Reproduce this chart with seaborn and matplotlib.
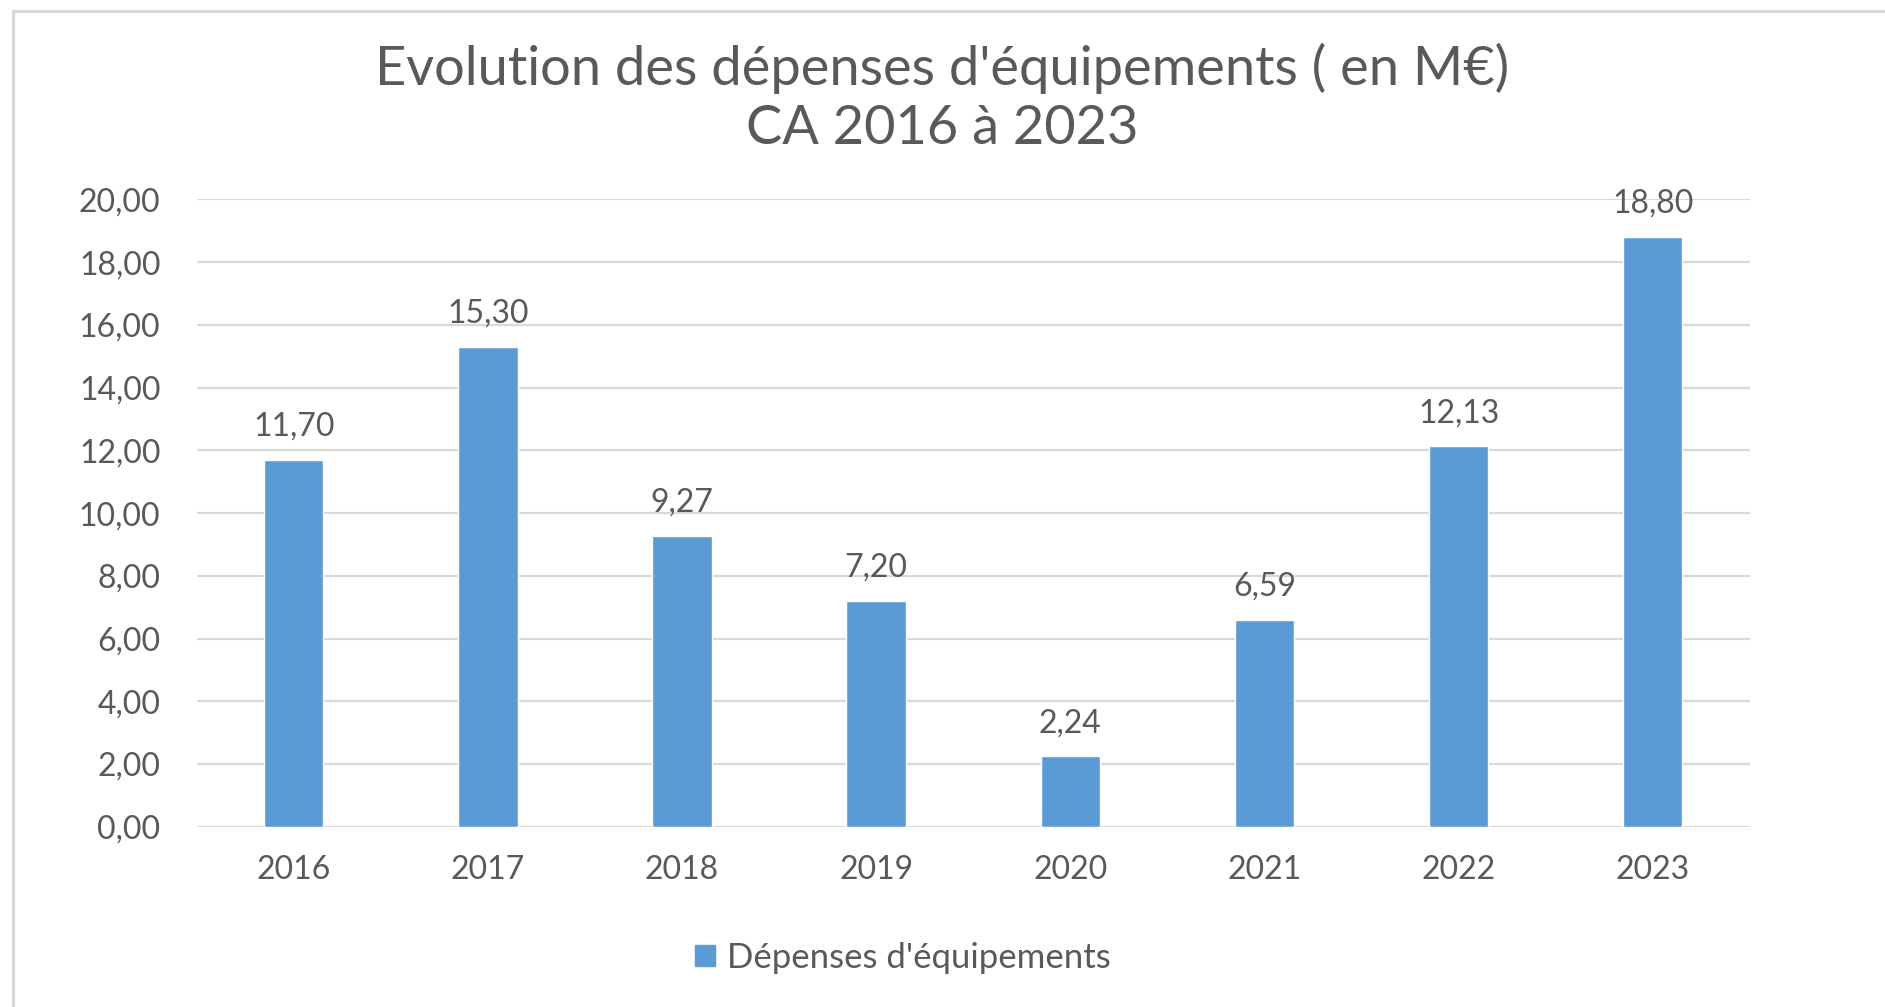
import numpy as np
import pandas as pd
import matplotlib.pyplot as plt
import seaborn as sns
from matplotlib.patches import Patch
from matplotlib.lines import Line2D
from matplotlib.ticker import FuncFormatter, MultipleLocator

# Chart data
years = ['2016', '2017', '2018', '2019', '2020', '2021', '2022', '2023']
depenses = [11.70, 15.30, 9.27, 7.20, 2.24, 6.59, 12.13, 18.80]
serie_label = "Dépenses d'équipements"
title_text = "Evolution des dépenses d'équipements ( en M€)\nCA 2016 à 2023"

df = pd.DataFrame({'Année': years, 'Montant': depenses})

bar_color = '#5B9BD5'
text_color = '#595959'
grid_color = '#D9D9D9'

sns.set_style('white')
plt.rcParams['font.family'] = ['Lato', 'DejaVu Sans']

fig = plt.figure(figsize=(18.85, 10.07), dpi=100)
ax = fig.add_axes([0.1043, 0.179, 0.824, 0.623])

sns.barplot(data=df, x='Année', y='Montant', color=bar_color, width=0.306,
            saturation=1, ax=ax, zorder=3)

ax.set_ylim(0, 20)
ax.yaxis.set_major_locator(MultipleLocator(2))
ax.yaxis.set_major_formatter(FuncFormatter(lambda v, p: f"{v:.2f}".replace('.', ',')))
ax.grid(axis='y', color=grid_color, linewidth=1.6, zorder=0)
ax.set_axisbelow(True)
for s in ax.spines.values():
    s.set_visible(False)
ax.tick_params(axis='both', length=0, labelsize=23, colors=text_color)
ax.tick_params(axis='y', pad=26)
ax.tick_params(axis='x', pad=20)
ax.set_xlabel('')
ax.set_ylabel('')

# data labels
for i, v in enumerate(depenses):
    ax.annotate(f"{v:.2f}".replace('.', ','), (i, v), xytext=(0, 13),
                textcoords='offset points', ha='center', va='bottom',
                fontsize=23, color=text_color, clip_on=False)

fig.text(0.5, 0.903, title_text, ha='center', va='center', fontsize=39,
         color=text_color, linespacing=1.25)

handles = [Patch(facecolor=bar_color, edgecolor=bar_color, label=serie_label)]
fig.legend(handles=handles, loc='center', bbox_to_anchor=(0.479, 0.049),
           frameon=False, fontsize=25, labelcolor=text_color,
           handlelength=0.55, handleheight=0.55, handletextpad=0.35)

# outer chart frame (top and left edges)
fig.add_artist(Line2D([0.0069, 1.0], [0.989, 0.989], color=grid_color, lw=2.2,
                      transform=fig.transFigure))
fig.add_artist(Line2D([0.0069, 0.0069], [0.0, 0.989], color=grid_color, lw=2.2,
                      transform=fig.transFigure))

fig.savefig('out.png', dpi=100, facecolor='white')
